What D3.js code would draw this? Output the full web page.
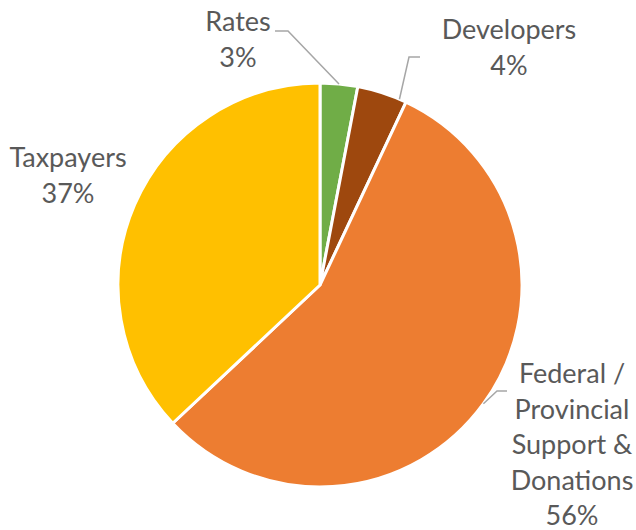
<!DOCTYPE html>
<html>
<head>
<meta charset="utf-8">
<script src="https://cdn.jsdelivr.net/npm/d3@7"></script>
<style>
  html, body { margin: 0; padding: 0; background: #fff; }
  svg { display: block; }
  text { font-family: "Lato", "Open Sans", sans-serif; fill: #595959; }
</style>
</head>
<body>
<svg id="chart" width="636" height="530"></svg>
<script>
// Funding sources (percent of total), clockwise from 12 o'clock
const categories = ["Rates", "Developers", "Federal / Provincial Support & Donations", "Taxpayers"];
const shares = [3, 4, 56, 37];
const labelLines = [["Rates"], ["Developers"], ["Federal /", "Provincial", "Support &", "Donations"], ["Taxpayers"]];
const colors = ["#70AD47", "#9E480E", "#ED7D31", "#FFC000"];

const W = 636, H = 530;
const cx = 320, cy = 285, radius = 202;
const fontSize = 27, lineH = 35.5;

// Label placement: text anchor (centre x, first baseline) and leader geometry
const labelLayout = [
  { x: 238, y: 31, leader: { from: [275, 31], elbow: [288, 31], angleOffset: 0 } },
  { x: 509, y: 39, leader: { from: [420, 57], elbow: [409, 57], angleOffset: 0.09 } },
  { x: 572, y: 383, leader: { from: [507, 391], elbow: [497, 391], angleOffset: 0 } },
  { x: 68, y: 167, leader: null }
];

const svg = d3.select("#chart");
const g = svg.append("g").attr("transform", `translate(${cx},${cy})`);

const pie = d3.pie().sort(null).value(d => d.value).startAngle(0).endAngle(2 * Math.PI);
const arc = d3.arc().innerRadius(0).outerRadius(radius);

const data = categories.map((c, i) => ({ name: c, value: shares[i], color: colors[i], lines: labelLines[i], layout: labelLayout[i] }));
const arcs = pie(data);

g.selectAll("path.slice")
  .data(arcs)
  .join("path")
  .attr("class", "slice")
  .attr("d", arc)
  .attr("fill", d => d.data.color)
  .attr("stroke", "#fff")
  .attr("stroke-width", 3)
  .attr("stroke-linejoin", "round");

// Leader lines from label elbow to the slice edge
arcs.forEach(a => {
  const L = a.data.layout.leader;
  if (!L) return;
  const mid = (a.startAngle + a.endAngle) / 2 + L.angleOffset;
  const ex = cx + radius * Math.sin(mid);
  const ey = cy - radius * Math.cos(mid);
  svg.append("polyline")
    .attr("points", [L.from, L.elbow, [ex, ey]].map(p => p.join(",")).join(" "))
    .attr("fill", "none")
    .attr("stroke", "#A6A6A6")
    .attr("stroke-width", 1.5);
});

// Category names followed by percentage
arcs.forEach(a => {
  const lay = a.data.layout;
  const t = svg.append("text")
    .attr("text-anchor", "middle")
    .attr("font-size", fontSize);
  const lines = a.data.lines.concat([d3.format(".0f")(a.data.value) + "%"]);
  lines.forEach((ln, i) => {
    t.append("tspan")
      .attr("x", lay.x)
      .attr("y", lay.y + i * lineH)
      .text(ln);
  });
});
</script>
</body>
</html>
